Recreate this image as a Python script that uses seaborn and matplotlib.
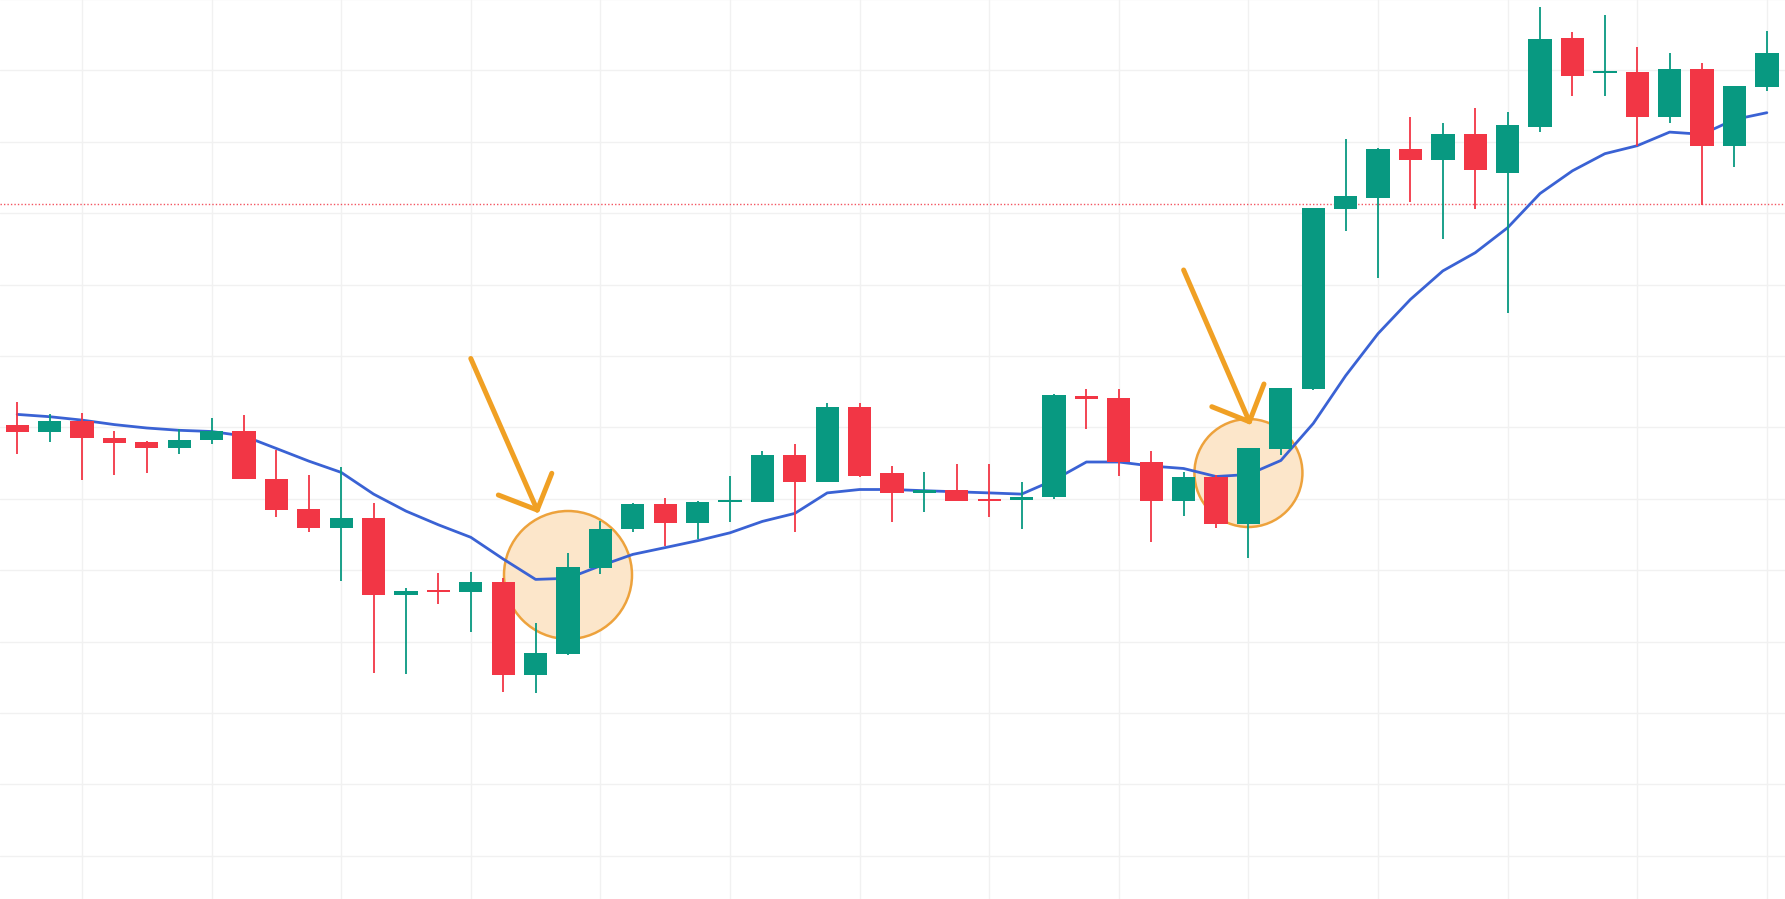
import numpy as np
import pandas as pd
import matplotlib.pyplot as plt
import seaborn as sns
from matplotlib.patches import Ellipse

# candle values (price scale is arbitrary, no labels shown)
opens = [475, 468.3, 479, 461.7, 457.7, 451.7, 460, 469, 421, 390.7,
         371.7, 381.7, 305, 309, 307.7, 318.3, 225, 246, 331.7, 371,
         395.7, 377.3, 397.7, 397.7, 445, 417.7, 492.7, 426.7, 406.7, 410,
         400.7, 400, 402.7, 504.3, 501.7, 438.3, 399.3, 422.7, 375.7, 451,
         510.7, 690.7, 701.7, 750.7, 740, 766, 727.3, 773.3, 861.7, 826.7,
         828.3, 783.3, 831, 754.3, 813.3]
highs = [498.3, 485.7, 486.7, 469, 459, 470.7, 481.7, 485, 450, 425,
         432.7, 396.7, 311.7, 327.3, 328.3, 322, 277.3, 346.7, 379.3, 397.3,
         402.3, 399.3, 424, 449.3, 456, 497.3, 497.3, 434, 428.3, 435.7,
         435.7, 418.3, 506, 510.7, 510.7, 449.3, 428.3, 425, 452.3, 512,
         692, 760.7, 752.3, 783.3, 777.3, 791.7, 788.3, 893.3, 868.3, 885,
         853.3, 846.7, 836.7, 814, 869.3]
lows = [446, 458.3, 420, 425, 427.3, 446, 456, 420.7, 382.7, 368.3,
        319.3, 227.3, 226, 295.7, 268.3, 208.3, 206.7, 245, 326, 367.7,
        354, 360.7, 378.3, 397.7, 368.3, 417.7, 423.3, 377.7, 388.3, 399.3,
        382.7, 371, 400.7, 471, 424.3, 358.3, 384, 371.7, 341.7, 445,
        510, 669.3, 621.7, 697.7, 661, 690.7, 586.7, 768.3, 804.3, 804.3,
        754, 776.7, 695, 733.3, 809.3]
closes = [468.3, 479, 461.7, 457.3, 451.7, 460, 469, 420.7, 390, 371.7,
          381.7, 305, 309, 308, 318.3, 225, 246.7, 332.7, 371, 395.7,
          377.3, 398.3, 399, 445, 417.7, 492.7, 424.3, 406.7, 410, 399.3,
          399.3, 403.3, 505, 501, 438.3, 399.3, 422.7, 375.7, 452.3, 511.7,
          691.7, 704.3, 750.7, 740, 766, 730, 775, 860.7, 824.3, 829,
          783.3, 831, 754.3, 814, 846.7]
# moving average line as drawn in the reference
ma_values = [485.6, 483.3, 479.9, 475.4, 472.0, 469.7, 468.5, 464.0, 451.5, 438.9,
             427.6, 405.9, 388.9, 375.2, 362.7, 341.0, 320.6, 321.7, 334.2, 345.6,
             352.4, 359.3, 367.2, 378.6, 386.6, 407.1, 410.5, 410.5, 409.3, 408.2,
             407.1, 405.9, 420.0, 438.0, 438.0, 434.0, 431.5, 423.5, 425.5, 439.5,
             476.5, 524.3, 566.4, 600.6, 629.1, 647.3, 672.3, 706.5, 729.2, 746.3,
             754.3, 767.9, 765.7, 780.5, 787.3]
ref_level = 695.7

# highlighted spots: (candle index, price)
circle_centers = [(17.0, 325), (38.0, 427)]
circle_radius_px = [64, 54]
arrow_starts = [(14.0, 541.5), (36.0, 630)]
arrow_tips = [(16.05, 390), (38.03, 478.3)]
arrow_arms = [((14.85, 405), (16.5, 426.7)), ((36.87, 493.3), (38.48, 516))]

up_color = '#089981'
down_color = '#f23645'
ma_color = '#3a62d4'
orange = '#f0a024'

df = pd.DataFrame({'open': opens, 'high': highs, 'low': lows,
                   'close': closes, 'ma': ma_values})
df['idx'] = np.arange(len(df))
df['up'] = df['close'] >= df['open']
colors = np.where(df['up'], up_color, down_color)

sns.set_style('white')
fig = plt.figure(figsize=(17.85, 8.99), dpi=100)
ax = fig.add_axes([0, 0, 1, 1])

x_min, x_max = -0.53, 54.56
y_min, y_max = 1, 900
ax.set_xlim(x_min, x_max)
ax.set_ylim(y_min, y_max)

# grid
for gx in np.arange(2, 55, 4):
    ax.axvline(gx, color='#f1f1f1', lw=1.0, zorder=0)
for gy in 901 - 71.4 * np.arange(0, 13):
    ax.axhline(gy, color='#f1f1f1', lw=1.0, zorder=0)

ax.axhline(ref_level, color=down_color, lw=1.0, ls=(0, (1, 1.5)), alpha=0.85, zorder=1)

# highlight circles (pixel radius converted to data units)
px_per_x = 1785 / (x_max - x_min)
px_per_y = 899 / (y_max - y_min)
for (cx, cy), r in zip(circle_centers, circle_radius_px):
    ax.add_patch(Ellipse((cx, cy), 2 * r / px_per_x, 2 * r / px_per_y,
                         facecolor='#fce6ca', edgecolor='#eda23c', lw=1.8, zorder=1.5))

# moving average
sns.lineplot(data=df, x='idx', y='ma', ax=ax, color=ma_color, lw=2.0, zorder=2)

# candles
body_bottom = np.minimum(df['open'], df['close'])
body_height = np.maximum((df['close'] - df['open']).abs(), 2.0)
ax.vlines(df['idx'], df['low'], df['high'], colors=colors, lw=1.3, zorder=3)
ax.bar(df['idx'], body_height, bottom=body_bottom, width=0.72, color=colors,
       linewidth=0, zorder=4)

# arrows
for start, tip, arms in zip(arrow_starts, arrow_tips, arrow_arms):
    ax.plot([start[0], tip[0]], [start[1], tip[1]], color=orange, lw=3.6,
            solid_capstyle='round', zorder=6)
    for arm in arms:
        ax.plot([arm[0], tip[0]], [arm[1], tip[1]], color=orange, lw=3.6,
                solid_capstyle='round', zorder=6)

ax.set_xlabel('')
ax.set_ylabel('')
ax.set_xticks([])
ax.set_yticks([])
for s in ax.spines.values():
    s.set_visible(False)

fig.savefig('out.png', dpi=100)
